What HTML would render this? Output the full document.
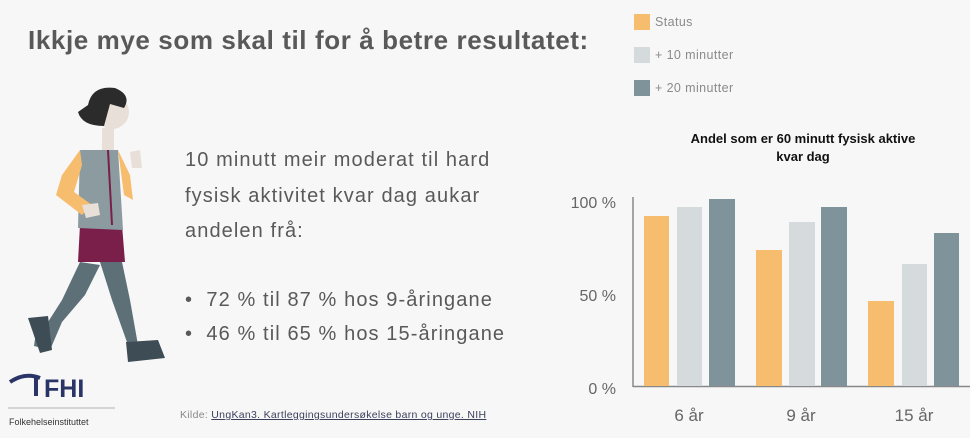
<!DOCTYPE html>
<html><head><meta charset="utf-8"><style>
html,body{margin:0;padding:0;}
body{width:970px;height:438px;background:#f7f7f7;position:relative;overflow:hidden;font-family:"Liberation Sans",sans-serif;}
.a{position:absolute;white-space:nowrap;}
.t{left:28px;top:25px;font-size:26px;font-weight:bold;color:#595959;letter-spacing:0.6px;}
.p{left:185px;font-size:20px;color:#595959;letter-spacing:1.1px;}
.lg{left:655px;font-size:12.5px;color:#8a8a8a;letter-spacing:0.4px;}
.sq{position:absolute;left:634px;width:16px;height:16px;}
</style></head><body>
<div class="a t">Ikkje mye som skal til for å betre resultatet:</div>
<div class="a p" style="top:149px">10 minutt meir moderat til hard</div>
<div class="a p" style="top:185px">fysisk aktivitet kvar dag aukar</div>
<div class="a p" style="top:220px">andelen frå:</div>
<div class="a p" style="top:289px">•&nbsp; 72 % til 87 % hos 9-åringane</div>
<div class="a p" style="top:323px">•&nbsp; 46 % til 65 % hos 15-åringane</div>
<div class="a" style="left:180px;top:409px;font-size:10.5px;color:#888;letter-spacing:0.3px">Kilde: <span style="color:#3a3f5a;text-decoration:underline">UngKan3. Kartleggingsundersøkelse barn og unge. NIH</span></div>

<div class="sq" style="top:14px;background:#f7bd6e"></div>
<div class="sq" style="top:47px;background:#d5dbdd"></div>
<div class="sq" style="top:80px;background:#7f939a"></div>
<div class="a lg" style="top:15px">Status</div>
<div class="a lg" style="top:48px">+ 10 minutter</div>
<div class="a lg" style="top:81px">+ 20 minutter</div>
<div class="a" style="left:650px;top:130px;width:306px;text-align:center;font-size:13px;font-weight:bold;color:#111;line-height:18px;white-space:normal">Andel som er 60 minutt fysisk aktive<br>kvar dag</div>

<svg class="a" style="left:0;top:0" width="970" height="438">
<line x1="633" y1="197" x2="633" y2="387" stroke="#888" stroke-width="1.5"/>
<line x1="633" y1="386.5" x2="970" y2="386.5" stroke="#888" stroke-width="1.5"/>
<g fill="#f7bd6e"><rect x="644" y="216" width="25" height="170"/><rect x="756" y="250" width="26" height="136"/><rect x="868" y="301" width="26" height="85"/></g>
<g fill="#d5dbdd"><rect x="677" y="207" width="25" height="179"/><rect x="789" y="222" width="26" height="164"/><rect x="902" y="264" width="25" height="122"/></g>
<g fill="#7f939a"><rect x="709" y="199" width="26" height="187"/><rect x="821" y="207" width="26" height="179"/><rect x="934" y="233" width="25" height="153"/></g>
<g font-family="Liberation Sans,sans-serif" fill="#666" font-size="16" text-anchor="end">
<text x="616" y="208">100 %</text><text x="616" y="301">50 %</text><text x="616" y="394">0 %</text></g>
<g font-family="Liberation Sans,sans-serif" fill="#666" font-size="17" text-anchor="middle">
<text x="689" y="421">6 år</text><text x="801" y="421">9 år</text><text x="914" y="421">15 år</text></g>

<path d="M80 262 L62 300 L48 322 L38 318 L34 346 L50 350 L62 322 L85 295 L100 265Z" fill="#5d7077"/>
<path d="M100 262 L112 300 L128 345 L138 345 L130 300 L122 262Z" fill="#5d7077"/>
<path d="M28 318 L48 316 L52 350 L40 353Z" fill="#3e4c55"/>
<path d="M126 342 L158 340 L165 358 L128 362Z" fill="#3e4c55"/>
<path d="M80 225 L122 225 L125 262 L78 262Z" fill="#7a1e4a"/>
<path d="M80 150 L118 150 L123 230 L78 228Z" fill="#8b9ba0"/>
<path d="M80 150 L62 175 L56 195 L82 215 L92 205 L74 192 L82 165Z" fill="#f7bd6e"/>
<path d="M118 150 L130 175 L133 200 L124 195Z" fill="#f7bd6e"/>
<path d="M82 205 L98 203 L100 215 L86 218Z" fill="#e8e0d8"/>
<path d="M130 152 L140 150 L142 168 L132 168Z" fill="#e8e0d8"/>
<line x1="108" y1="150" x2="112" y2="225" stroke="#7a1e4a" stroke-width="2"/>
<circle cx="112" cy="112" r="17" fill="#e8e0d8"/>
<path d="M88 105 Q92 85 115 88 Q132 95 124 108 L110 104 L104 126 Q82 126 78 112Z" fill="#2b2b2b"/>
<rect x="102" y="128" width="12" height="22" fill="#e8e0d8"/>
<path d="M10 382 Q25 372 40 378" stroke="#2b3467" stroke-width="4" fill="none"/>
<rect x="34" y="378" width="4" height="18" fill="#2b3467"/>
<text x="44" y="397" font-family="Liberation Sans,sans-serif" font-weight="bold" font-size="25" fill="#2b3467">FHI</text>
<line x1="8" y1="408" x2="115" y2="408" stroke="#999" stroke-width="0.8"/>
<text x="9" y="425" font-family="Liberation Sans,sans-serif" font-size="9" fill="#333">Folkehelseinstituttet</text>
</svg>
</body></html>
